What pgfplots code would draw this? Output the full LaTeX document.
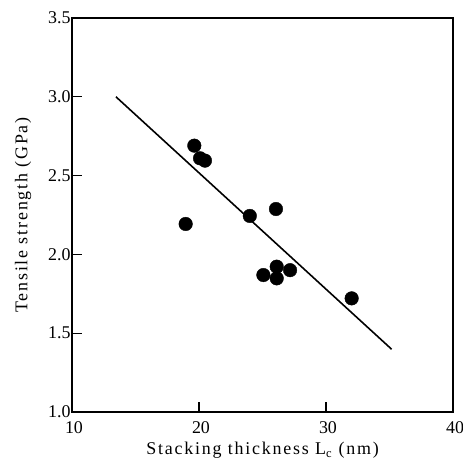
\documentclass[border=0pt]{standalone}
\usepackage{fontspec}
\setmainfont{Liberation Serif}
\newfontfamily\lsfont[LetterSpace=10]{Liberation Serif}
\usepackage{pgfplots}
\pgfplotsset{compat=1.18}
\newcommand{\fs}{\fontsize{18}{21}\selectfont}
\begin{document}
\begin{tikzpicture}
\begin{axis}[
  name=ax,
  scale only axis,
  width=381bp, height=394bp,
  xmin=10, xmax=40, ymin=1.0, ymax=3.5,
  xtick={10,20,30,40},
  ytick={1.0,1.5,2.0,2.5,3.0,3.5},
  tick align=inside,
  tickpos=left,
  major tick length=10bp,
  axis line style={line width=1.6pt},
  tick style={line width=1.4pt, black},
  /pgf/number format/assume math mode=true,
  yticklabel style={/pgf/number format/fixed,/pgf/number format/fixed zerofill,/pgf/number format/precision=1, xshift=2bp},
  xticklabel style={yshift=-6bp, xshift=2bp},
  ticklabel style={font=\fs},
  label style={font=\fs\lsfont},
  xlabel={Stacking thickness L\textsubscript{c} (nm)},
  ylabel={Tensile strength (GPa)},
  xlabel shift=2bp,
  ylabel shift=10bp,
]
\addplot[only marks, mark=*, mark size=6.8bp, black] coordinates {
  (19.63,2.69) (20.08,2.61) (20.47,2.595) (18.95,2.193)
  (24.0,2.244) (26.06,2.288)
  (25.07,1.869) (26.12,1.922) (26.12,1.848) (27.17,1.90)
  (32.02,1.721)
};
\addplot[black, line width=1.6pt] coordinates {(13.46,3.0) (35.17,1.398)};
\end{axis}
\pgfresetboundingbox
\path ([xshift=-72bp,yshift=-53bp]ax.south west) rectangle ([xshift=10bp,yshift=18bp]ax.north east);
\end{tikzpicture}
\end{document}
